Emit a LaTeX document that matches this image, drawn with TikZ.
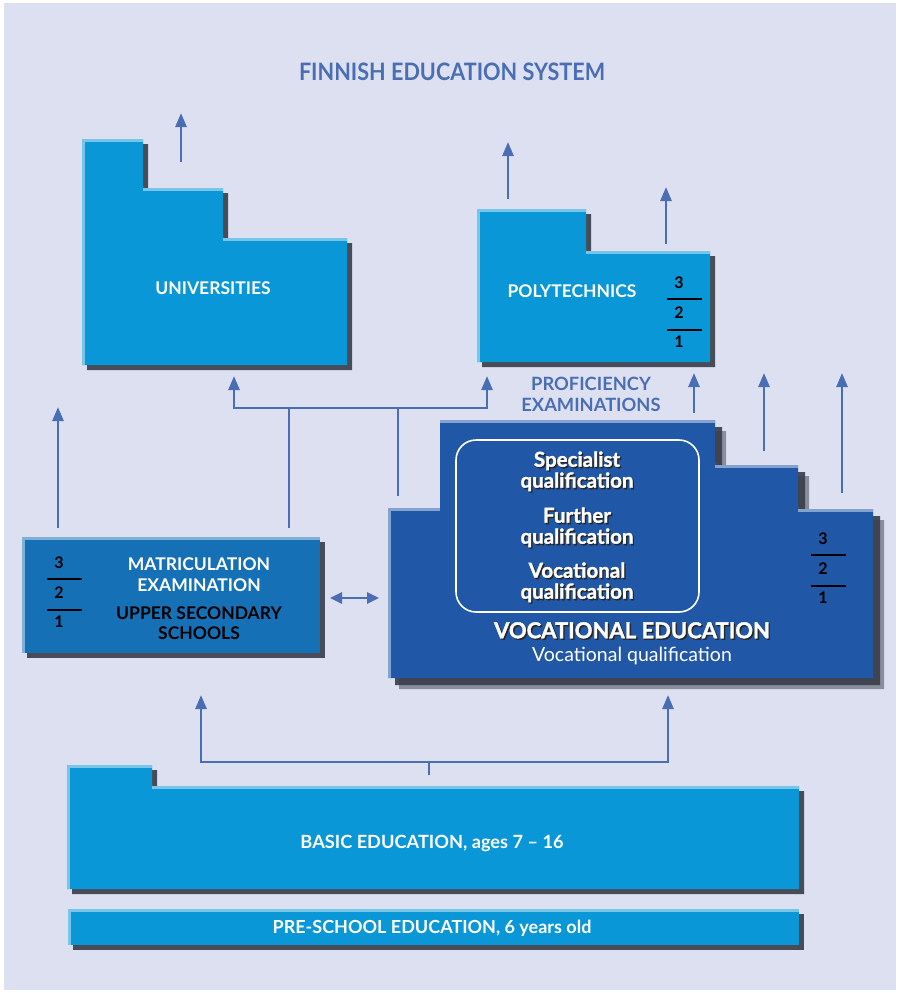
\documentclass[tikz,border=0pt]{standalone}
\usepackage{fontspec}
\setmainfont{Lato}
\newfontfamily\headfont[FakeStretch=0.9]{Lato}
\newfontfamily\heavyfont[UprightFont={* Bold}, FakeBold=1.5]{Lato}
\usetikzlibrary{arrows.meta}

\definecolor{paper}{HTML}{DDE0F0}
\definecolor{arrowblue}{HTML}{4A6EB4}
\definecolor{lightblock}{HTML}{0A97D7}
\definecolor{midblock}{HTML}{1670B6}
\definecolor{darkblock}{HTML}{2157A7}
\definecolor{shadowgray}{HTML}{383B48}

\tikzset{
  flow/.style={arrowblue, line width=2.6pt, -{Triangle[length=14pt,width=11pt]}},
  link/.style={arrowblue, line width=2.6pt},
  twoway/.style={arrowblue, line width=2.6pt, {Triangle[length=12pt,width=11pt]}-{Triangle[length=12pt,width=11pt]}},
  dropshadow/.style={fill=shadowgray, opacity=0.9},
  hilite/.style={white, opacity=0.45, line width=5pt},
  blocklabel/.style={text=white, font=\bfseries\fontsize{17.5}{21}\selectfont, align=center},
  darklabel/.style={text=black, font=\bfseries\fontsize{17.5}{20}\selectfont, align=center},
  qualabel/.style={text=white, font=\heavyfont\fontsize{20.5}{21}\selectfont, align=center},
  yearnum/.style={text=black, font=\bfseries\fontsize{16}{18}\selectfont, inner sep=0pt},
  yearrule/.style={black, line width=1.3pt}
}

% text with a dark drop shadow
\newcommand{\shadowed}[1]{\makebox[0pt][l]{\hspace{1.4pt}\raisebox{-1.4pt}{\color{black!85}#1}}#1}

% year marks 3/2/1: name, x, y of the top digit
\newcommand{\yearmarks}[3]{%
  \node[yearnum] (#1-3) at (#2,#3) {3};
  \node[yearnum] (#1-2) at (#2,#3+30) {2};
  \node[yearnum] (#1-1) at (#2,#3+59) {1};
  \draw[yearrule] (#2-12,#3+16) -- ++(35,0);
  \draw[yearrule] (#2-12,#3+47) -- ++(35,0);
}

\begin{document}
\begin{tikzpicture}[x=1pt, y=-1pt]
\useasboundingbox (0,0) rectangle (902,993);
\fill[paper] (4,3) rectangle (896,990);

% title
\node[text=arrowblue, font=\headfont\bfseries\fontsize{24}{28}\selectfont] (title) at (452,72) {FINNISH EDUCATION SYSTEM};

% universities
\fill[dropshadow] (87,370) -- (87,144) -| (148,193) -| (228,243) -| (352,370) -- cycle;
\fill[lightblock, path picture={
  \draw[hilite] (82,139) -- (143,139) (143,188) -- (223,188) (223,238) -- (347,238) (82,139) -- (82,365);}]
  (82,365) -- (82,139) -| (143,188) -| (223,238) -| (347,365) -- cycle;
\node[blocklabel] (uni) at (213,288) {UNIVERSITIES};

% polytechnics
\fill[dropshadow] (482,367) -- (482,214) -| (591,256) -| (715,367) -- cycle;
\fill[lightblock, path picture={
  \draw[hilite] (477,209) -- (586,209) (586,251) -- (710,251) (477,209) -- (477,362);}]
  (477,362) -- (477,209) -| (586,251) -| (710,362) -- cycle;
\node[blocklabel] (poly) at (572,291) {POLYTECHNICS};
\yearmarks{poly}{679}{283}

\node[text=arrowblue, font=\bfseries\fontsize{18.3}{21}\selectfont, align=center] (profexam) at (591,394) {PROFICIENCY\\EXAMINATIONS};

% vocational education
\fill[shadowgray, opacity=0.5] (399,689) -- (399,519) -| (451,431) -| (726,476) -| (809,520) -| (884,689) -- cycle;
\fill[dropshadow] (395,685) -- (395,515) -| (447,427) -| (722,472) -| (805,516) -| (880,685) -- cycle;
\fill[darkblock, path picture={
  \draw[hilite] (388,508) -- (440,508) (440,420) -- (715,420) (715,465) -- (798,465) (798,509) -- (873,509) (388,508) -- (388,678);}]
  (388,678) -- (388,508) -| (440,420) -| (715,465) -| (798,509) -| (873,678) -- cycle;
\draw[white, line width=1.6pt, rounded corners=20pt] (456,440) rectangle (699,612);
\node[qualabel] (spec) at (577,472) {\shadowed{Specialist}\\\shadowed{qualification}};
\node[qualabel] (further) at (577,528) {\shadowed{Further}\\\shadowed{qualification}};
\node[qualabel] (vocq) at (577,583) {\shadowed{Vocational}\\\shadowed{qualification}};
\node[text=white, inner sep=0pt, font=\heavyfont\fontsize{22}{24}\selectfont] (voc) at (632,631) {\shadowed{VOCATIONAL EDUCATION}};
\node[text=white, inner sep=0pt, font=\fontsize{19.5}{22}\selectfont] (vocsub) at (632,656) {Vocational qualification};
\yearmarks{voc}{823}{539}

% upper secondary schools
\fill[dropshadow] (27,542) rectangle (325,658);
\fill[midblock, path picture={\draw[hilite] (22,537) -- (320,537) (22,537) -- (22,653);}] (22,537) rectangle (320,653);
\node[blocklabel] (matric) at (199,574.5) {MATRICULATION\\EXAMINATION};
\node[darklabel] (upper) at (199,623) {UPPER SECONDARY\\SCHOOLS};
\yearmarks{matr}{59}{563}

% basic and pre-school education
\fill[dropshadow] (72,894) -- (72,770) -| (157,791) -| (804,894) -- cycle;
\fill[lightblock, path picture={
  \draw[hilite] (67,765) -- (152,765) (152,786) -- (799,786) (67,765) -- (67,889);}]
  (67,889) -- (67,765) -| (152,786) -| (799,889) -- cycle;
\node[blocklabel, font=\fontsize{18.2}{21}\selectfont\bfseries] (basic) at (432,843) {BASIC EDUCATION, ages 7 -- 16};
\fill[dropshadow] (73,914) rectangle (804,950);
\fill[lightblock, path picture={\draw[hilite] (68,909) -- (799,909) (68,909) -- (68,945);}] (68,909) rectangle (799,945);
\node[blocklabel, font=\fontsize{18}{21}\selectfont\bfseries] (preschool) at (432,928) {PRE-SCHOOL EDUCATION, 6 years old};

% connector end points
\coordinate (uniout) at (181,162);   \coordinate (uniexit) at (181,113);
\coordinate (polyout) at (508,199);  \coordinate (polyexit) at (508,142);
\coordinate (polyout2) at (666,244); \coordinate (polyexit2) at (666,187);
\coordinate (uniin) at (234,376);    \coordinate (polyin) at (487,376);
\coordinate (profin) at (694,413);   \coordinate (profexit) at (694,373);
\coordinate (vocout) at (764,451);   \coordinate (vocexit) at (764,373);
\coordinate (vocout2) at (842,493);  \coordinate (vocexit2) at (842,373);
\coordinate (matrout) at (58,528);   \coordinate (matrexit) at (58,407);
\coordinate (matrup) at (289,528);   \coordinate (hub) at (289,408);
\coordinate (vocup) at (398,496);    \coordinate (vochub) at (398,408);
\coordinate (basicup) at (429,775);  \coordinate (basichub) at (429,762);
\coordinate (matrin) at (201,695);   \coordinate (vocin) at (668,695);
\coordinate (matrside) at (330,598); \coordinate (vocside) at (379,598);

% arrows
\draw[flow] (uniout) -- (uniexit);
\draw[flow] (polyout) -- (polyexit);
\draw[flow] (polyout2) -- (polyexit2);
\draw[flow] (profin) -- (profexit);
\draw[flow] (vocout) -- (vocexit);
\draw[flow] (vocout2) -- (vocexit2);
\draw[flow] (matrout) -- (matrexit);
\draw[flow] (hub) -| (uniin);
\draw[flow] (hub) -| (polyin);
\draw[link] (matrup) -- (hub);
\draw[link] (vocup) -- (vochub);
\draw[link] (basicup) -- (basichub);
\draw[flow] (basichub) -| (matrin);
\draw[flow] (basichub) -| (vocin);
\draw[twoway] (matrside) -- (vocside);
\end{tikzpicture}
\end{document}
